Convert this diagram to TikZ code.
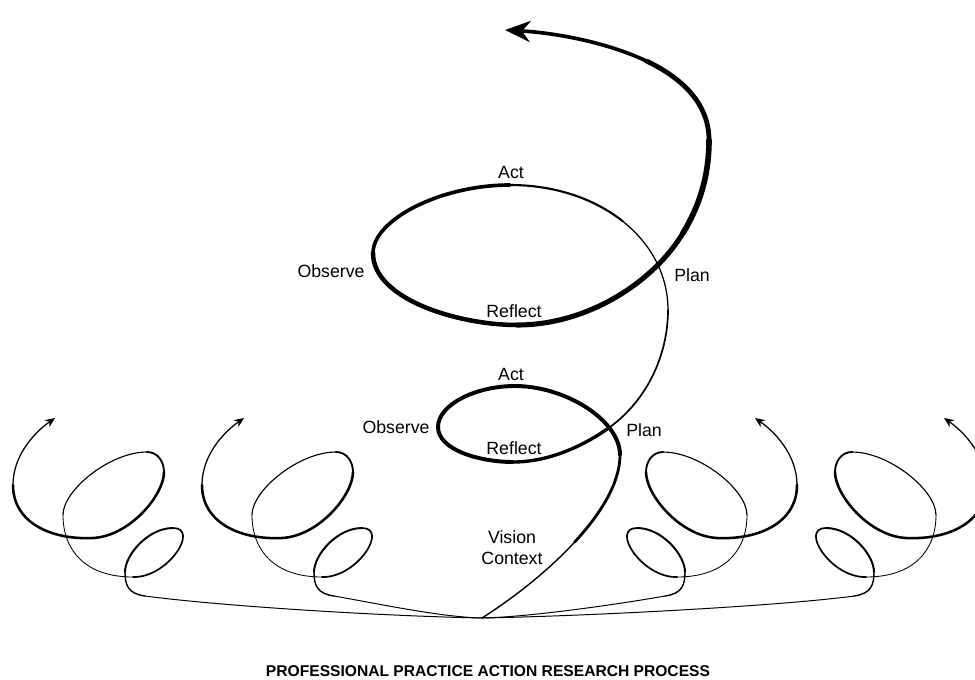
\documentclass[tikz,border=0pt]{standalone}
\usepackage{fontspec}
\setmainfont{Liberation Sans}
\usetikzlibrary{arrows.meta}

% one small spiral on the side, drawn in its own local frame
% #1 and #2: the controls of the thread that comes from the base
\newcommand{\sidespiral}[2]{%
  \draw[thread, line width=0.7pt] (base) .. controls #1 and #2 .. (145,596);
  \draw[thread, line width=1.0pt] (145,596) .. controls (128,593.7) and (125,585) .. (125,572);
  \draw[thread, line width=1.4pt] (125,572) .. controls (125,555) and (148,528) .. (173,528);
  \draw[thread, line width=1.2pt] (173,528) .. controls (200,528) and (168,578) .. (133,577);
  \draw[thread, line width=0.6pt] (133,577) .. controls (85,577) and (63,550) .. (63,515);
  \draw[thread, line width=0.8pt] (63,515) .. controls (63,490) and (110,452) .. (147,452);
  \draw[thread, line width=1.3pt] (147,452) .. controls (158,452) and (164,462) .. (164,472);
  \draw[thread, line width=1.8pt] (164,472) .. controls (164,495) and (130,536) .. (93,538);
  \draw[thread, line width=1.8pt] (93,538) .. controls (50,540) and (13,522) .. (13,485);
  \draw[thread, line width=0.9pt, -{Stealth[length=7pt,width=6pt]}] (13,485) .. controls (13,455) and (35,432) .. (55,418);
}

\begin{document}
\begin{tikzpicture}
    [x=0.025cm, y=-0.025cm,
    thread/.style = {line cap=round, line join=round, black},
    lbl/.style = {font=\fontsize{12.6}{15}\selectfont, inner sep=0pt},
    heading/.style = {font=\fontsize{11.1}{13}\selectfont\bfseries, inner sep=0pt}]
    \useasboundingbox (0,0) rectangle (975,679);

    \coordinate (base) at (482,618);

    % main spiral, lower loop
    \draw[thread, line width=1.0pt] (base) .. controls (513.5,598) and (548,571) .. (574.6,542.1);
    \draw[thread, line width=2.0pt] (574.6,542.1) .. controls (601.25,513.25) and (620,482.5) .. (620,455);
    \draw[thread, line width=2.8pt] (620,455) .. controls (620,420) and (565,386) .. (515,386);
    \draw[thread, line width=2.8pt] (515,386) .. controls (475,386) and (438,405) .. (438,427);
    \draw[thread, line width=2.8pt] (438,427) .. controls (438,450) and (480,462) .. (513,462);
    \draw[thread, line width=2.4pt] (513,462) .. controls (550,462) and (585,445) .. (610,427);
    \draw[thread, line width=1.2pt] (610,427) .. controls (647,400) and (668,355) .. (668,310);
    % main spiral, upper loop
    \draw[thread, line width=0.9pt] (668,310) .. controls (668,275) and (651,243.75) .. (622.75,221.25);
    \draw[thread, line width=1.5pt] (622.75,221.25) .. controls (594.5,198.75) and (555,185) .. (510,185);
    \draw[thread, line width=2.6pt] (510,185) .. controls (440,185) and (373,220) .. (373,253);
    \draw[thread, line width=3.2pt] (373,253) .. controls (373,300) and (460,325) .. (517,325);
    \draw[thread, line width=3.6pt] (517,325) .. controls (590,325) and (655,280) .. (683,233);
    \draw[thread, line width=4.0pt] (683,233) .. controls (700,205) and (709,175) .. (709,140);
    \draw[thread, line width=3.4pt] (709,140) .. controls (709,105) and (684.25,79) .. (646.4,61);
    \draw[thread, line width=2.6pt, -{Stealth[length=18pt,width=15pt]}] (646.4,61) .. controls (608.5,43) and (557.5,33) .. (505,30);

    % side spirals
    \begin{scope}
        \sidespiral{(380,616)}{(220,606)}
    \end{scope}
    \begin{scope}[shift={(189,0)}]
        \sidespiral{(251,617)}{(191,604)}
    \end{scope}
    \begin{scope}[shift={(810,0)}, xscale=-1]
        \sidespiral{(280,617)}{(190,604)}
    \end{scope}
    \begin{scope}[shift={(999,0)}, xscale=-1]
        \sidespiral{(409,616)}{(219,606)}
    \end{scope}

    \node[lbl] (actup) at (511,172) {Act};
    \node[lbl] (observeup) at (331,271) {Observe};
    \node[lbl] (reflectup) at (514,311) {Reflect};
    \node[lbl] (planup) at (692,275) {Plan};
    \node[lbl] (actlow) at (511,374) {Act};
    \node[lbl] (observelow) at (396,427) {Observe};
    \node[lbl] (reflectlow) at (514,448) {Reflect};
    \node[lbl] (planlow) at (644,430) {Plan};
    \node[lbl, align=center] (vision) at (512,547.5) {Vision\\Context};
    \node[heading] (title) at (488,671) {PROFESSIONAL PRACTICE ACTION RESEARCH PROCESS};
\end{tikzpicture}
\end{document}
